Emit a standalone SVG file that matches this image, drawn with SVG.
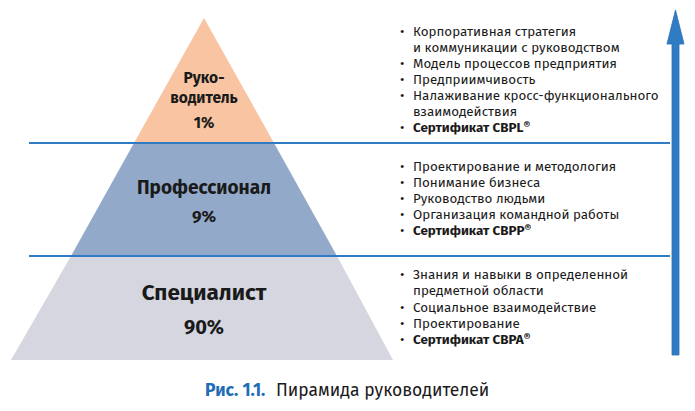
<svg xmlns="http://www.w3.org/2000/svg" width="695" height="411" viewBox="0 0 695 411">
<style>
.t{font-family:"Fira Sans","Noto Sans","Open Sans",sans-serif;font-size:13.4px;fill:#1a1a1a}
.b{font-weight:bold}
.r{font-size:10.5px}
.lbl{font-family:"Fira Sans","Noto Sans","Open Sans",sans-serif;font-weight:bold;fill:#1a1a1a;text-anchor:middle}
.sep{stroke:#2f7cc4;stroke-width:2}
</style>
<rect width="695" height="411" fill="#ffffff"/>
<g id="level-specialist">
<polygon points="71,256 337,256 393,360 11,360" fill="#d5d6df"/>
<text class="lbl" x="204" y="300" font-size="22.5">Специалист</text>
<text class="lbl" x="204" y="334" font-size="20">90%</text>
</g>
<g id="level-professional">
<polygon points="134,143 274,143 337,256 71,256" fill="#93a9c9"/>
<text class="lbl" x="204" y="194" font-size="19">Профессионал</text>
<text class="lbl" x="204" y="222" font-size="17">9%</text>
</g>
<g id="level-manager">
<polygon points="204,18 274,143 134,143" fill="#f8c4a1"/>
<text class="lbl" x="204" y="83" font-size="15.5">Руко-</text>
<text class="lbl" x="204" y="103" font-size="15.5">водитель</text>
<text class="lbl" x="204" y="128" font-size="15.5">1%</text>
</g>
<g id="connectors">
<line class="sep" x1="29" y1="143" x2="670" y2="143"/>
<line class="sep" x1="29" y1="256" x2="670" y2="256"/>
<polygon points="672,355 679,355 679,44 684,44 675.5,10 667,44 672,44" fill="#2f7cc4" stroke="#2a6fb0" stroke-width="0.8"/>
</g>
<g id="list-manager" class="t">
<text x="400" y="36">•</text><text x="413" y="36">Корпоративная стратегия</text>
<text x="413" y="52">и коммуникации с руководством</text>
<text x="400" y="68">•</text><text x="413" y="68">Модель процессов предприятия</text>
<text x="400" y="84">•</text><text x="413" y="84">Предприимчивость</text>
<text x="400" y="100">•</text><text x="413" y="100">Налаживание кросс-функционального</text>
<text x="413" y="116">взаимодействия</text>
<text x="400" y="132">•</text><text x="413" y="132" class="b">Сертификат CBPL<tspan class="r" dy="-3">®</tspan></text>
</g>
<g id="list-professional" class="t">
<text x="400" y="171">•</text><text x="413" y="171">Проектирование и методология</text>
<text x="400" y="187">•</text><text x="413" y="187">Понимание бизнеса</text>
<text x="400" y="203">•</text><text x="413" y="203">Руководство людьми</text>
<text x="400" y="219">•</text><text x="413" y="219">Организация командной работы</text>
<text x="400" y="235">•</text><text x="413" y="235" class="b">Сертификат CBPP<tspan class="r" dy="-3">®</tspan></text>
</g>
<g id="list-specialist" class="t">
<text x="400" y="279">•</text><text x="413" y="279">Знания и навыки в определенной</text>
<text x="413" y="295">предметной области</text>
<text x="400" y="312">•</text><text x="413" y="312">Социальное взаимодействие</text>
<text x="400" y="328">•</text><text x="413" y="328">Проектирование</text>
<text x="400" y="344">•</text><text x="413" y="344" class="b">Сертификат CBPA<tspan class="r" dy="-3">®</tspan></text>
</g>
<g id="caption">
<text x="205" y="396" font-family="Fira Sans,Noto Sans,Open Sans,sans-serif" font-size="17.5" font-weight="bold" fill="#1f6db5">Рис. 1.1.</text>
<text x="276" y="396" font-family="Fira Sans,Noto Sans,Open Sans,sans-serif" font-size="17.5" fill="#1a1a1a">Пирамида руководителей</text>
</g>
</svg>
